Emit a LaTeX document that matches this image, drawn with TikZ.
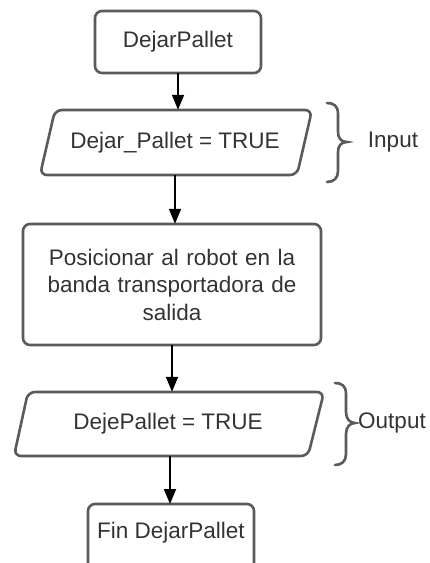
\documentclass[tikz,border=0pt]{standalone}
\usepackage{fontspec}
\setmainfont{Liberation Sans}
\usetikzlibrary{arrows.meta}
\definecolor{bordergray}{HTML}{5A5A5A}
\definecolor{textgray}{HTML}{333333}
\begin{document}
\begin{tikzpicture}[x=1pt,y=-1pt,
  every node/.style={text=textgray,font=\fontsize{22.5}{27.5}\selectfont},
  boxstyle/.style={draw=bordergray,line width=2.6pt,rounded corners=7pt},
  lbl/.style={inner sep=0pt,align=center},
  arr/.style={draw=black,line width=1.8pt,-{Triangle[length=15pt,width=12pt]}},
  bracestyle/.style={draw=bordergray,line width=2.6pt,line cap=round}]
\useasboundingbox (0,0) rectangle (430,563);

% box 1
\draw[boxstyle] (95,11) rectangle (261,73);
\node[lbl,minimum width=166pt,minimum height=62pt] (b1) at (178,42) {DejarPallet};

% parallelogram 1
\draw[boxstyle] (55,110) -- (312,110) -- (297,175) -- (40,175) -- cycle;
\node[lbl,minimum width=250pt,minimum height=65pt] (p1) at (175,142.5) {Dejar\_Pallet = TRUE};

% box 3
\draw[boxstyle] (23,224) rectangle (321,345);
\node[lbl,minimum width=298pt,minimum height=121pt,text width=290pt] (b3) at (172,284.5) {Posicionar al robot en la\\banda transportadora de\\salida};

% parallelogram 2
\draw[boxstyle] (28,392) -- (324,392) -- (308,456) -- (14,456) -- cycle;
\node[lbl,minimum width=280pt,minimum height=64pt] (p2) at (168,424) {DejePallet = TRUE};

% box 5
\draw[boxstyle] (88,504) rectangle (254,580);
\node[lbl,minimum width=166pt] (b5) at (171,533) {Fin DejarPallet};
\coordinate (b5top) at (171,504);

% arrows
\draw[arr] (b1.south) -- (b1.south |- p1.north);
\draw[arr] (p1.south) -- (p1.south |- b3.north);
\draw[arr] (b3.south) -- (b3.south |- p2.north);
\draw[arr] ([xshift=2pt]p2.south) -- ([xshift=2pt]p2.south |- b5top);

% brace 1
\draw[bracestyle] (327,103) .. controls (334,103) and (338,106) .. (338,114) -- (338,132)
  .. controls (338,138) and (341,142) .. (347,142)
  .. controls (341,142) and (338,146) .. (338,152) -- (338,171)
  .. controls (338,178) and (334,182) .. (327,182);
\node[lbl] (inlbl) at (393,142) {Input};

% brace 2
\draw[bracestyle] (335,383) .. controls (342,383) and (346,386) .. (346,394) -- (346,412)
  .. controls (346,419) and (350,423) .. (355,423)
  .. controls (350,423) and (346,427) .. (346,434) -- (346,454)
  .. controls (346,461) and (342,465) .. (335,465);
\node[lbl] (outlbl) at (392,423) {Output};
\end{tikzpicture}
\end{document}
